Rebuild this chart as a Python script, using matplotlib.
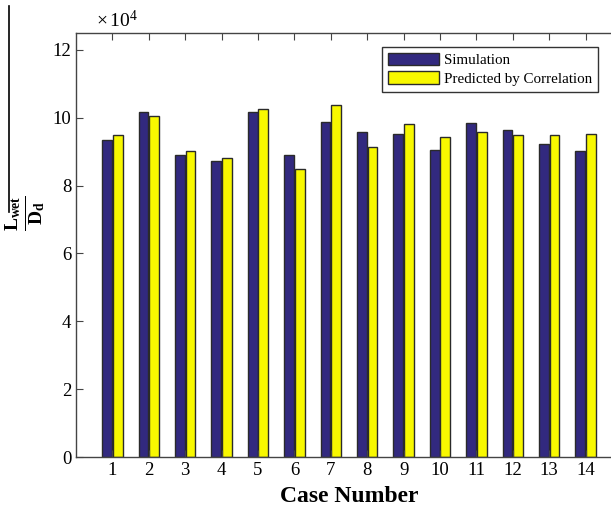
import matplotlib
matplotlib.use("Agg")
import matplotlib.pyplot as plt
import numpy as np
from matplotlib.lines import Line2D

plt.rcParams['font.family'] = ['Liberation Serif', 'DejaVu Serif']
plt.rcParams['mathtext.fontset'] = 'custom'
plt.rcParams['mathtext.rm'] = 'Liberation Serif'
plt.rcParams['mathtext.bf'] = 'Liberation Serif:bold'
plt.rcParams['mathtext.it'] = 'Liberation Serif:italic'

cases = list(range(1, 15))
simulation = [9.34, 10.18, 8.89, 8.74, 10.18, 8.89, 9.88, 9.57, 9.53, 9.04, 9.84, 9.65, 9.22, 9.03]
predicted = [9.50, 10.05, 9.01, 8.81, 10.25, 8.50, 10.37, 9.15, 9.82, 9.42, 9.58, 9.50, 9.50, 9.52]
yticks = [0, 2, 4, 6, 8, 10, 12]

fig = plt.figure(figsize=(6.11, 5.16), dpi=100)
ax = fig.add_axes([76/611, (516-457)/516, 546/611, (457-33)/516])

x = np.array(cases, dtype=float)
w = 0.27
ax.bar(x - 0.145, simulation, width=w, color='#32297F', edgecolor='#2a2a2a', linewidth=1.0, label='Simulation')
ax.bar(x + 0.145, predicted, width=w, color='#F8F800', edgecolor='#2a2a2a', linewidth=1.0, label='Predicted by Correlation')

ax.set_xlim(0, 15)
ax.set_ylim(0, 12.5)
ax.set_xticks(cases)
ax.set_yticks(yticks)
ax.tick_params(direction='in', top=True, right=True, labelsize=13.5, length=5, color='#444444')
for s in ax.spines.values():
    s.set_color('#444444')
    s.set_linewidth(1.0)

ax.set_xlabel('Case Number', fontsize=17, fontweight='bold', labelpad=5)
fig.text(26/611, 1 - 213/516, r'$\mathbf{\frac{L_{wet}}{D_d}}$', fontsize=20, rotation=90,
         ha='center', va='center')

fig.text(96/611, 1 - 20/516, r'$\times\,10^{4}$', fontsize=14, ha='left', va='center')

leg = ax.legend(loc='upper right', bbox_to_anchor=((598-76)/546, (457-47)/424), fontsize=10.8,
                frameon=True, fancybox=False, edgecolor='#333333', framealpha=1,
                borderpad=0.4, handlelength=3.4, handleheight=0.9, labelspacing=0.25, handletextpad=0.35,
                borderaxespad=0)
leg.get_frame().set_linewidth(1.0)

fig.add_artist(Line2D([9/611, 9/611], [1 - 6/516, 1 - 212/516], color='black', linewidth=1.2, transform=fig.transFigure))

fig.savefig('out.png', dpi=100)
